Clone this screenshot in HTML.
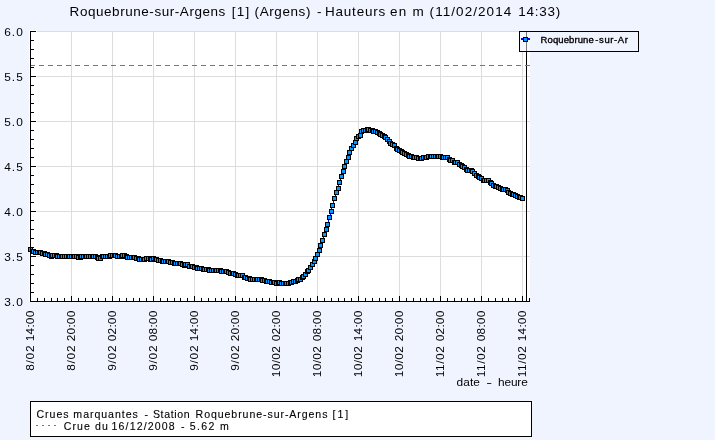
<!DOCTYPE html><html><head><meta charset="utf-8"><style>html,body{margin:0;padding:0;background:#F0F4FF;width:715px;height:440px;overflow:hidden}svg{display:block;will-change:transform}text{font-family:"Liberation Sans",sans-serif;fill:#000}</style></head><body>
<svg width="715" height="440" viewBox="0 0 715 440" shape-rendering="crispEdges">
<text transform="translate(69.60,16.00) scale(1.080,1)" x="0" y="0" font-size="12.50" textLength="144.24" lengthAdjust="spacing">Roquebrune-sur-Argens</text>
<text transform="translate(231.70,16.00) scale(1.080,1)" x="0" y="0" font-size="12.50" textLength="16.32" lengthAdjust="spacing">[1]</text>
<text transform="translate(254.60,16.00) scale(1.080,1)" x="0" y="0" font-size="12.50" textLength="51.66" lengthAdjust="spacing">(Argens)</text>
<text transform="translate(317.00,16.00) scale(1.080,1)" x="0" y="0" font-size="12.50" textLength="3.22" lengthAdjust="spacing">-</text>
<text transform="translate(325.00,16.00) scale(1.080,1)" x="0" y="0" font-size="12.50" textLength="55.81" lengthAdjust="spacing">Hauteurs</text>
<text transform="translate(390.00,16.00) scale(1.080,1)" x="0" y="0" font-size="12.50" textLength="31.37" lengthAdjust="spacing">en m</text>
<text transform="translate(429.60,16.00) scale(1.080,1)" x="0" y="0" font-size="12.50" textLength="75.63" lengthAdjust="spacing">(11/02/2014</text>
<text transform="translate(518.30,16.00) scale(1.080,1)" x="0" y="0" font-size="12.50" textLength="38.80" lengthAdjust="spacing">14:33)</text>
<rect x="29" y="31" width="501" height="271" fill="#fff"/><rect x="29" y="30" width="8" height="1" fill="#fff"/>
<rect x="71" y="31" width="1" height="270" fill="#DDDDDD"/>
<rect x="112" y="31" width="1" height="270" fill="#DDDDDD"/>
<rect x="153" y="31" width="1" height="270" fill="#DDDDDD"/>
<rect x="194" y="31" width="1" height="270" fill="#DDDDDD"/>
<rect x="235" y="31" width="1" height="270" fill="#DDDDDD"/>
<rect x="276" y="31" width="1" height="270" fill="#DDDDDD"/>
<rect x="317" y="31" width="1" height="270" fill="#DDDDDD"/>
<rect x="358" y="31" width="1" height="270" fill="#DDDDDD"/>
<rect x="399" y="31" width="1" height="270" fill="#DDDDDD"/>
<rect x="440" y="31" width="1" height="270" fill="#DDDDDD"/>
<rect x="481" y="31" width="1" height="270" fill="#DDDDDD"/>
<rect x="522" y="52" width="1" height="249" fill="#DDDDDD"/>
<rect x="37" y="31" width="493" height="1" fill="#DDDDDD"/>
<rect x="37" y="76" width="493" height="1" fill="#DDDDDD"/>
<rect x="37" y="121" width="493" height="1" fill="#DDDDDD"/>
<rect x="37" y="166" width="493" height="1" fill="#DDDDDD"/>
<rect x="37" y="211" width="493" height="1" fill="#DDDDDD"/>
<rect x="37" y="256" width="493" height="1" fill="#DDDDDD"/>
<rect x="526" y="31" width="1" height="270" fill="#000"/>
<rect x="30" y="65" width="5" height="1" fill="#0099FF"/>
<rect x="39" y="65" width="5" height="1" fill="#0099FF"/>
<rect x="48" y="65" width="5" height="1" fill="#0099FF"/>
<rect x="57" y="65" width="5" height="1" fill="#0099FF"/>
<rect x="66" y="65" width="5" height="1" fill="#0099FF"/>
<rect x="75" y="65" width="5" height="1" fill="#0099FF"/>
<rect x="84" y="65" width="5" height="1" fill="#0099FF"/>
<rect x="93" y="65" width="5" height="1" fill="#0099FF"/>
<rect x="102" y="65" width="5" height="1" fill="#0099FF"/>
<rect x="111" y="65" width="5" height="1" fill="#0099FF"/>
<rect x="120" y="65" width="5" height="1" fill="#0099FF"/>
<rect x="129" y="65" width="5" height="1" fill="#0099FF"/>
<rect x="138" y="65" width="5" height="1" fill="#0099FF"/>
<rect x="147" y="65" width="5" height="1" fill="#0099FF"/>
<rect x="156" y="65" width="5" height="1" fill="#0099FF"/>
<rect x="165" y="65" width="5" height="1" fill="#0099FF"/>
<rect x="174" y="65" width="5" height="1" fill="#0099FF"/>
<rect x="183" y="65" width="5" height="1" fill="#0099FF"/>
<rect x="192" y="65" width="5" height="1" fill="#0099FF"/>
<rect x="201" y="65" width="5" height="1" fill="#0099FF"/>
<rect x="210" y="65" width="5" height="1" fill="#0099FF"/>
<rect x="219" y="65" width="5" height="1" fill="#0099FF"/>
<rect x="228" y="65" width="5" height="1" fill="#0099FF"/>
<rect x="237" y="65" width="5" height="1" fill="#0099FF"/>
<rect x="246" y="65" width="5" height="1" fill="#0099FF"/>
<rect x="255" y="65" width="5" height="1" fill="#0099FF"/>
<rect x="264" y="65" width="5" height="1" fill="#0099FF"/>
<rect x="273" y="65" width="5" height="1" fill="#0099FF"/>
<rect x="282" y="65" width="5" height="1" fill="#0099FF"/>
<rect x="291" y="65" width="5" height="1" fill="#0099FF"/>
<rect x="300" y="65" width="5" height="1" fill="#0099FF"/>
<rect x="309" y="65" width="5" height="1" fill="#0099FF"/>
<rect x="318" y="65" width="5" height="1" fill="#0099FF"/>
<rect x="327" y="65" width="5" height="1" fill="#0099FF"/>
<rect x="336" y="65" width="5" height="1" fill="#0099FF"/>
<rect x="345" y="65" width="5" height="1" fill="#0099FF"/>
<rect x="354" y="65" width="5" height="1" fill="#0099FF"/>
<rect x="363" y="65" width="5" height="1" fill="#0099FF"/>
<rect x="372" y="65" width="5" height="1" fill="#0099FF"/>
<rect x="381" y="65" width="5" height="1" fill="#0099FF"/>
<rect x="390" y="65" width="5" height="1" fill="#0099FF"/>
<rect x="399" y="65" width="5" height="1" fill="#0099FF"/>
<rect x="408" y="65" width="5" height="1" fill="#0099FF"/>
<rect x="417" y="65" width="5" height="1" fill="#0099FF"/>
<rect x="426" y="65" width="5" height="1" fill="#0099FF"/>
<rect x="435" y="65" width="5" height="1" fill="#0099FF"/>
<rect x="444" y="65" width="5" height="1" fill="#0099FF"/>
<rect x="453" y="65" width="5" height="1" fill="#0099FF"/>
<rect x="462" y="65" width="5" height="1" fill="#0099FF"/>
<rect x="471" y="65" width="5" height="1" fill="#0099FF"/>
<rect x="480" y="65" width="5" height="1" fill="#0099FF"/>
<rect x="489" y="65" width="5" height="1" fill="#0099FF"/>
<rect x="498" y="65" width="5" height="1" fill="#0099FF"/>
<rect x="507" y="65" width="5" height="1" fill="#0099FF"/>
<rect x="516" y="65" width="5" height="1" fill="#0099FF"/>
<rect x="525" y="65" width="5" height="1" fill="#0099FF"/>
<polyline points="30.5,249.5 32.5,251.5 33.5,251.5 35.5,252.5 37.5,252.5 39.5,252.5 40.5,252.5 42.5,253.5 44.5,253.5 45.5,254.5 47.5,254.5 49.5,255.5 51.5,256.5 52.5,255.5 54.5,255.5 56.5,255.5 57.5,256.5 59.5,256.5 61.5,256.5 62.5,256.5 64.5,256.5 66.5,256.5 68.5,256.5 69.5,256.5 71.5,256.5 73.5,256.5 74.5,256.5 76.5,256.5 78.5,257.5 80.5,257.5 81.5,256.5 83.5,256.5 85.5,256.5 86.5,256.5 88.5,256.5 90.5,256.5 92.5,256.5 93.5,256.5 95.5,256.5 97.5,257.5 98.5,258.5 100.5,258.5 102.5,256.5 103.5,256.5 105.5,256.5 107.5,256.5 109.5,256.5 110.5,255.5 112.5,255.5 114.5,255.5 115.5,255.5 117.5,256.5 119.5,256.5 121.5,256.5 122.5,255.5 124.5,255.5 126.5,256.5 127.5,257.5 129.5,257.5 131.5,257.5 133.5,257.5 134.5,257.5 136.5,258.5 138.5,258.5 139.5,259.5 141.5,259.5 143.5,259.5 144.5,259.5 146.5,258.5 148.5,258.5 150.5,259.5 151.5,259.5 153.5,258.5 155.5,259.5 156.5,259.5 158.5,260.5 160.5,260.5 162.5,261.5 163.5,261.5 165.5,261.5 167.5,261.5 168.5,261.5 170.5,262.5 172.5,262.5 174.5,263.5 175.5,263.5 177.5,263.5 179.5,263.5 180.5,263.5 182.5,264.5 184.5,265.5 185.5,264.5 187.5,264.5 189.5,266.5 191.5,266.5 192.5,266.5 194.5,267.5 196.5,267.5 197.5,268.5 199.5,268.5 201.5,268.5 203.5,269.5 204.5,269.5 206.5,269.5 208.5,269.5 209.5,270.5 211.5,270.5 213.5,270.5 215.5,270.5 216.5,270.5 218.5,270.5 220.5,270.5 221.5,271.5 223.5,271.5 225.5,271.5 226.5,271.5 228.5,272.5 230.5,273.5 232.5,273.5 233.5,273.5 235.5,274.5 237.5,275.5 238.5,275.5 240.5,275.5 242.5,275.5 244.5,277.5 245.5,277.5 247.5,278.5 249.5,278.5 250.5,279.5 252.5,279.5 254.5,279.5 256.5,279.5 257.5,279.5 259.5,279.5 261.5,279.5 262.5,280.5 264.5,280.5 266.5,281.5 267.5,281.5 269.5,281.5 271.5,282.5 273.5,282.5 274.5,282.5 276.5,283.5 278.5,282.5 279.5,282.5 281.5,283.5 283.5,283.5 285.5,283.5 286.5,283.5 288.5,283.5 290.5,282.5 291.5,282.5 293.5,281.5 295.5,281.5 297.5,280.5 298.5,279.5 300.5,279.5 302.5,277.5 303.5,276.5 305.5,274.5 307.5,271.5 308.5,270.5 310.5,267.5 312.5,264.5 314.5,261.5 315.5,258.5 317.5,254.5 319.5,250.5 320.5,245.5 322.5,240.5 324.5,234.5 326.5,229.5 327.5,224.5 329.5,217.5 331.5,211.5 332.5,205.5 334.5,198.5 336.5,192.5 338.5,188.5 339.5,182.5 341.5,176.5 343.5,171.5 344.5,166.5 346.5,161.5 348.5,157.5 349.5,152.5 351.5,148.5 353.5,145.5 355.5,142.5 356.5,138.5 358.5,136.5 360.5,135.5 361.5,131.5 363.5,130.5 365.5,130.5 367.5,129.5 368.5,129.5 370.5,130.5 372.5,130.5 373.5,131.5 375.5,131.5 377.5,132.5 379.5,133.5 380.5,134.5 382.5,135.5 384.5,136.5 385.5,137.5 387.5,139.5 389.5,141.5 390.5,143.5 392.5,144.5 394.5,145.5 396.5,148.5 397.5,149.5 399.5,150.5 401.5,151.5 402.5,152.5 404.5,153.5 406.5,154.5 408.5,155.5 409.5,156.5 411.5,156.5 413.5,157.5 414.5,157.5 416.5,157.5 418.5,158.5 420.5,158.5 421.5,158.5 423.5,157.5 425.5,157.5 426.5,157.5 428.5,156.5 430.5,156.5 431.5,156.5 433.5,156.5 435.5,156.5 437.5,156.5 438.5,156.5 440.5,156.5 442.5,157.5 443.5,157.5 445.5,157.5 447.5,157.5 449.5,159.5 450.5,160.5 452.5,160.5 454.5,162.5 455.5,162.5 457.5,162.5 459.5,164.5 461.5,165.5 462.5,166.5 464.5,167.5 466.5,169.5 467.5,170.5 469.5,170.5 471.5,170.5 472.5,171.5 474.5,173.5 476.5,175.5 478.5,176.5 479.5,177.5 481.5,178.5 483.5,180.5 484.5,180.5 486.5,180.5 488.5,180.5 490.5,182.5 491.5,183.5 493.5,185.5 495.5,186.5 496.5,186.5 498.5,187.5 500.5,188.5 502.5,189.5 503.5,189.5 505.5,189.5 507.5,190.5 508.5,192.5 510.5,193.5 512.5,194.5 513.5,194.5 515.5,195.5 517.5,196.5 519.5,197.5 520.5,197.5 522.5,198.5" fill="none" stroke="#0000FF" stroke-width="1" shape-rendering="crispEdges"/>
<rect x="28" y="247" width="5" height="5" fill="#000"/><rect x="29" y="248" width="3" height="3" fill="#0099FF"/>
<rect x="30" y="249" width="5" height="5" fill="#000"/><rect x="31" y="250" width="3" height="3" fill="#0099FF"/>
<rect x="31" y="249" width="5" height="5" fill="#000"/><rect x="32" y="250" width="3" height="3" fill="#0099FF"/>
<rect x="33" y="250" width="5" height="5" fill="#000"/><rect x="34" y="251" width="3" height="3" fill="#0099FF"/>
<rect x="35" y="250" width="5" height="5" fill="#000"/><rect x="36" y="251" width="3" height="3" fill="#0099FF"/>
<rect x="37" y="250" width="5" height="5" fill="#000"/><rect x="38" y="251" width="3" height="3" fill="#0099FF"/>
<rect x="38" y="250" width="5" height="5" fill="#000"/><rect x="39" y="251" width="3" height="3" fill="#0099FF"/>
<rect x="40" y="251" width="5" height="5" fill="#000"/><rect x="41" y="252" width="3" height="3" fill="#0099FF"/>
<rect x="42" y="251" width="5" height="5" fill="#000"/><rect x="43" y="252" width="3" height="3" fill="#0099FF"/>
<rect x="43" y="252" width="5" height="5" fill="#000"/><rect x="44" y="253" width="3" height="3" fill="#0099FF"/>
<rect x="45" y="252" width="5" height="5" fill="#000"/><rect x="46" y="253" width="3" height="3" fill="#0099FF"/>
<rect x="47" y="253" width="5" height="5" fill="#000"/><rect x="48" y="254" width="3" height="3" fill="#0099FF"/>
<rect x="49" y="254" width="5" height="5" fill="#000"/><rect x="50" y="255" width="3" height="3" fill="#0099FF"/>
<rect x="50" y="253" width="5" height="5" fill="#000"/><rect x="51" y="254" width="3" height="3" fill="#0099FF"/>
<rect x="52" y="253" width="5" height="5" fill="#000"/><rect x="53" y="254" width="3" height="3" fill="#0099FF"/>
<rect x="54" y="253" width="5" height="5" fill="#000"/><rect x="55" y="254" width="3" height="3" fill="#0099FF"/>
<rect x="55" y="254" width="5" height="5" fill="#000"/><rect x="56" y="255" width="3" height="3" fill="#0099FF"/>
<rect x="57" y="254" width="5" height="5" fill="#000"/><rect x="58" y="255" width="3" height="3" fill="#0099FF"/>
<rect x="59" y="254" width="5" height="5" fill="#000"/><rect x="60" y="255" width="3" height="3" fill="#0099FF"/>
<rect x="60" y="254" width="5" height="5" fill="#000"/><rect x="61" y="255" width="3" height="3" fill="#0099FF"/>
<rect x="62" y="254" width="5" height="5" fill="#000"/><rect x="63" y="255" width="3" height="3" fill="#0099FF"/>
<rect x="64" y="254" width="5" height="5" fill="#000"/><rect x="65" y="255" width="3" height="3" fill="#0099FF"/>
<rect x="66" y="254" width="5" height="5" fill="#000"/><rect x="67" y="255" width="3" height="3" fill="#0099FF"/>
<rect x="67" y="254" width="5" height="5" fill="#000"/><rect x="68" y="255" width="3" height="3" fill="#0099FF"/>
<rect x="69" y="254" width="5" height="5" fill="#000"/><rect x="70" y="255" width="3" height="3" fill="#0099FF"/>
<rect x="71" y="254" width="5" height="5" fill="#000"/><rect x="72" y="255" width="3" height="3" fill="#0099FF"/>
<rect x="72" y="254" width="5" height="5" fill="#000"/><rect x="73" y="255" width="3" height="3" fill="#0099FF"/>
<rect x="74" y="254" width="5" height="5" fill="#000"/><rect x="75" y="255" width="3" height="3" fill="#0099FF"/>
<rect x="76" y="255" width="5" height="5" fill="#000"/><rect x="77" y="256" width="3" height="3" fill="#0099FF"/>
<rect x="78" y="255" width="5" height="5" fill="#000"/><rect x="79" y="256" width="3" height="3" fill="#0099FF"/>
<rect x="79" y="254" width="5" height="5" fill="#000"/><rect x="80" y="255" width="3" height="3" fill="#0099FF"/>
<rect x="81" y="254" width="5" height="5" fill="#000"/><rect x="82" y="255" width="3" height="3" fill="#0099FF"/>
<rect x="83" y="254" width="5" height="5" fill="#000"/><rect x="84" y="255" width="3" height="3" fill="#0099FF"/>
<rect x="84" y="254" width="5" height="5" fill="#000"/><rect x="85" y="255" width="3" height="3" fill="#0099FF"/>
<rect x="86" y="254" width="5" height="5" fill="#000"/><rect x="87" y="255" width="3" height="3" fill="#0099FF"/>
<rect x="88" y="254" width="5" height="5" fill="#000"/><rect x="89" y="255" width="3" height="3" fill="#0099FF"/>
<rect x="90" y="254" width="5" height="5" fill="#000"/><rect x="91" y="255" width="3" height="3" fill="#0099FF"/>
<rect x="91" y="254" width="5" height="5" fill="#000"/><rect x="92" y="255" width="3" height="3" fill="#0099FF"/>
<rect x="93" y="254" width="5" height="5" fill="#000"/><rect x="94" y="255" width="3" height="3" fill="#0099FF"/>
<rect x="95" y="255" width="5" height="5" fill="#000"/><rect x="96" y="256" width="3" height="3" fill="#0099FF"/>
<rect x="96" y="256" width="5" height="5" fill="#000"/><rect x="97" y="257" width="3" height="3" fill="#0099FF"/>
<rect x="98" y="256" width="5" height="5" fill="#000"/><rect x="99" y="257" width="3" height="3" fill="#0099FF"/>
<rect x="100" y="254" width="5" height="5" fill="#000"/><rect x="101" y="255" width="3" height="3" fill="#0099FF"/>
<rect x="101" y="254" width="5" height="5" fill="#000"/><rect x="102" y="255" width="3" height="3" fill="#0099FF"/>
<rect x="103" y="254" width="5" height="5" fill="#000"/><rect x="104" y="255" width="3" height="3" fill="#0099FF"/>
<rect x="105" y="254" width="5" height="5" fill="#000"/><rect x="106" y="255" width="3" height="3" fill="#0099FF"/>
<rect x="107" y="254" width="5" height="5" fill="#000"/><rect x="108" y="255" width="3" height="3" fill="#0099FF"/>
<rect x="108" y="253" width="5" height="5" fill="#000"/><rect x="109" y="254" width="3" height="3" fill="#0099FF"/>
<rect x="110" y="253" width="5" height="5" fill="#000"/><rect x="111" y="254" width="3" height="3" fill="#0099FF"/>
<rect x="112" y="253" width="5" height="5" fill="#000"/><rect x="113" y="254" width="3" height="3" fill="#0099FF"/>
<rect x="113" y="253" width="5" height="5" fill="#000"/><rect x="114" y="254" width="3" height="3" fill="#0099FF"/>
<rect x="115" y="254" width="5" height="5" fill="#000"/><rect x="116" y="255" width="3" height="3" fill="#0099FF"/>
<rect x="117" y="254" width="5" height="5" fill="#000"/><rect x="118" y="255" width="3" height="3" fill="#0099FF"/>
<rect x="119" y="254" width="5" height="5" fill="#000"/><rect x="120" y="255" width="3" height="3" fill="#0099FF"/>
<rect x="120" y="253" width="5" height="5" fill="#000"/><rect x="121" y="254" width="3" height="3" fill="#0099FF"/>
<rect x="122" y="253" width="5" height="5" fill="#000"/><rect x="123" y="254" width="3" height="3" fill="#0099FF"/>
<rect x="124" y="254" width="5" height="5" fill="#000"/><rect x="125" y="255" width="3" height="3" fill="#0099FF"/>
<rect x="125" y="255" width="5" height="5" fill="#000"/><rect x="126" y="256" width="3" height="3" fill="#0099FF"/>
<rect x="127" y="255" width="5" height="5" fill="#000"/><rect x="128" y="256" width="3" height="3" fill="#0099FF"/>
<rect x="129" y="255" width="5" height="5" fill="#000"/><rect x="130" y="256" width="3" height="3" fill="#0099FF"/>
<rect x="131" y="255" width="5" height="5" fill="#000"/><rect x="132" y="256" width="3" height="3" fill="#0099FF"/>
<rect x="132" y="255" width="5" height="5" fill="#000"/><rect x="133" y="256" width="3" height="3" fill="#0099FF"/>
<rect x="134" y="256" width="5" height="5" fill="#000"/><rect x="135" y="257" width="3" height="3" fill="#0099FF"/>
<rect x="136" y="256" width="5" height="5" fill="#000"/><rect x="137" y="257" width="3" height="3" fill="#0099FF"/>
<rect x="137" y="257" width="5" height="5" fill="#000"/><rect x="138" y="258" width="3" height="3" fill="#0099FF"/>
<rect x="139" y="257" width="5" height="5" fill="#000"/><rect x="140" y="258" width="3" height="3" fill="#0099FF"/>
<rect x="141" y="257" width="5" height="5" fill="#000"/><rect x="142" y="258" width="3" height="3" fill="#0099FF"/>
<rect x="142" y="257" width="5" height="5" fill="#000"/><rect x="143" y="258" width="3" height="3" fill="#0099FF"/>
<rect x="144" y="256" width="5" height="5" fill="#000"/><rect x="145" y="257" width="3" height="3" fill="#0099FF"/>
<rect x="146" y="256" width="5" height="5" fill="#000"/><rect x="147" y="257" width="3" height="3" fill="#0099FF"/>
<rect x="148" y="257" width="5" height="5" fill="#000"/><rect x="149" y="258" width="3" height="3" fill="#0099FF"/>
<rect x="149" y="257" width="5" height="5" fill="#000"/><rect x="150" y="258" width="3" height="3" fill="#0099FF"/>
<rect x="151" y="256" width="5" height="5" fill="#000"/><rect x="152" y="257" width="3" height="3" fill="#0099FF"/>
<rect x="153" y="257" width="5" height="5" fill="#000"/><rect x="154" y="258" width="3" height="3" fill="#0099FF"/>
<rect x="154" y="257" width="5" height="5" fill="#000"/><rect x="155" y="258" width="3" height="3" fill="#0099FF"/>
<rect x="156" y="258" width="5" height="5" fill="#000"/><rect x="157" y="259" width="3" height="3" fill="#0099FF"/>
<rect x="158" y="258" width="5" height="5" fill="#000"/><rect x="159" y="259" width="3" height="3" fill="#0099FF"/>
<rect x="160" y="259" width="5" height="5" fill="#000"/><rect x="161" y="260" width="3" height="3" fill="#0099FF"/>
<rect x="161" y="259" width="5" height="5" fill="#000"/><rect x="162" y="260" width="3" height="3" fill="#0099FF"/>
<rect x="163" y="259" width="5" height="5" fill="#000"/><rect x="164" y="260" width="3" height="3" fill="#0099FF"/>
<rect x="165" y="259" width="5" height="5" fill="#000"/><rect x="166" y="260" width="3" height="3" fill="#0099FF"/>
<rect x="166" y="259" width="5" height="5" fill="#000"/><rect x="167" y="260" width="3" height="3" fill="#0099FF"/>
<rect x="168" y="260" width="5" height="5" fill="#000"/><rect x="169" y="261" width="3" height="3" fill="#0099FF"/>
<rect x="170" y="260" width="5" height="5" fill="#000"/><rect x="171" y="261" width="3" height="3" fill="#0099FF"/>
<rect x="172" y="261" width="5" height="5" fill="#000"/><rect x="173" y="262" width="3" height="3" fill="#0099FF"/>
<rect x="173" y="261" width="5" height="5" fill="#000"/><rect x="174" y="262" width="3" height="3" fill="#0099FF"/>
<rect x="175" y="261" width="5" height="5" fill="#000"/><rect x="176" y="262" width="3" height="3" fill="#0099FF"/>
<rect x="177" y="261" width="5" height="5" fill="#000"/><rect x="178" y="262" width="3" height="3" fill="#0099FF"/>
<rect x="178" y="261" width="5" height="5" fill="#000"/><rect x="179" y="262" width="3" height="3" fill="#0099FF"/>
<rect x="180" y="262" width="5" height="5" fill="#000"/><rect x="181" y="263" width="3" height="3" fill="#0099FF"/>
<rect x="182" y="263" width="5" height="5" fill="#000"/><rect x="183" y="264" width="3" height="3" fill="#0099FF"/>
<rect x="183" y="262" width="5" height="5" fill="#000"/><rect x="184" y="263" width="3" height="3" fill="#0099FF"/>
<rect x="185" y="262" width="5" height="5" fill="#000"/><rect x="186" y="263" width="3" height="3" fill="#0099FF"/>
<rect x="187" y="264" width="5" height="5" fill="#000"/><rect x="188" y="265" width="3" height="3" fill="#0099FF"/>
<rect x="189" y="264" width="5" height="5" fill="#000"/><rect x="190" y="265" width="3" height="3" fill="#0099FF"/>
<rect x="190" y="264" width="5" height="5" fill="#000"/><rect x="191" y="265" width="3" height="3" fill="#0099FF"/>
<rect x="192" y="265" width="5" height="5" fill="#000"/><rect x="193" y="266" width="3" height="3" fill="#0099FF"/>
<rect x="194" y="265" width="5" height="5" fill="#000"/><rect x="195" y="266" width="3" height="3" fill="#0099FF"/>
<rect x="195" y="266" width="5" height="5" fill="#000"/><rect x="196" y="267" width="3" height="3" fill="#0099FF"/>
<rect x="197" y="266" width="5" height="5" fill="#000"/><rect x="198" y="267" width="3" height="3" fill="#0099FF"/>
<rect x="199" y="266" width="5" height="5" fill="#000"/><rect x="200" y="267" width="3" height="3" fill="#0099FF"/>
<rect x="201" y="267" width="5" height="5" fill="#000"/><rect x="202" y="268" width="3" height="3" fill="#0099FF"/>
<rect x="202" y="267" width="5" height="5" fill="#000"/><rect x="203" y="268" width="3" height="3" fill="#0099FF"/>
<rect x="204" y="267" width="5" height="5" fill="#000"/><rect x="205" y="268" width="3" height="3" fill="#0099FF"/>
<rect x="206" y="267" width="5" height="5" fill="#000"/><rect x="207" y="268" width="3" height="3" fill="#0099FF"/>
<rect x="207" y="268" width="5" height="5" fill="#000"/><rect x="208" y="269" width="3" height="3" fill="#0099FF"/>
<rect x="209" y="268" width="5" height="5" fill="#000"/><rect x="210" y="269" width="3" height="3" fill="#0099FF"/>
<rect x="211" y="268" width="5" height="5" fill="#000"/><rect x="212" y="269" width="3" height="3" fill="#0099FF"/>
<rect x="213" y="268" width="5" height="5" fill="#000"/><rect x="214" y="269" width="3" height="3" fill="#0099FF"/>
<rect x="214" y="268" width="5" height="5" fill="#000"/><rect x="215" y="269" width="3" height="3" fill="#0099FF"/>
<rect x="216" y="268" width="5" height="5" fill="#000"/><rect x="217" y="269" width="3" height="3" fill="#0099FF"/>
<rect x="218" y="268" width="5" height="5" fill="#000"/><rect x="219" y="269" width="3" height="3" fill="#0099FF"/>
<rect x="219" y="269" width="5" height="5" fill="#000"/><rect x="220" y="270" width="3" height="3" fill="#0099FF"/>
<rect x="221" y="269" width="5" height="5" fill="#000"/><rect x="222" y="270" width="3" height="3" fill="#0099FF"/>
<rect x="223" y="269" width="5" height="5" fill="#000"/><rect x="224" y="270" width="3" height="3" fill="#0099FF"/>
<rect x="224" y="269" width="5" height="5" fill="#000"/><rect x="225" y="270" width="3" height="3" fill="#0099FF"/>
<rect x="226" y="270" width="5" height="5" fill="#000"/><rect x="227" y="271" width="3" height="3" fill="#0099FF"/>
<rect x="228" y="271" width="5" height="5" fill="#000"/><rect x="229" y="272" width="3" height="3" fill="#0099FF"/>
<rect x="230" y="271" width="5" height="5" fill="#000"/><rect x="231" y="272" width="3" height="3" fill="#0099FF"/>
<rect x="231" y="271" width="5" height="5" fill="#000"/><rect x="232" y="272" width="3" height="3" fill="#0099FF"/>
<rect x="233" y="272" width="5" height="5" fill="#000"/><rect x="234" y="273" width="3" height="3" fill="#0099FF"/>
<rect x="235" y="273" width="5" height="5" fill="#000"/><rect x="236" y="274" width="3" height="3" fill="#0099FF"/>
<rect x="236" y="273" width="5" height="5" fill="#000"/><rect x="237" y="274" width="3" height="3" fill="#0099FF"/>
<rect x="238" y="273" width="5" height="5" fill="#000"/><rect x="239" y="274" width="3" height="3" fill="#0099FF"/>
<rect x="240" y="273" width="5" height="5" fill="#000"/><rect x="241" y="274" width="3" height="3" fill="#0099FF"/>
<rect x="242" y="275" width="5" height="5" fill="#000"/><rect x="243" y="276" width="3" height="3" fill="#0099FF"/>
<rect x="243" y="275" width="5" height="5" fill="#000"/><rect x="244" y="276" width="3" height="3" fill="#0099FF"/>
<rect x="245" y="276" width="5" height="5" fill="#000"/><rect x="246" y="277" width="3" height="3" fill="#0099FF"/>
<rect x="247" y="276" width="5" height="5" fill="#000"/><rect x="248" y="277" width="3" height="3" fill="#0099FF"/>
<rect x="248" y="277" width="5" height="5" fill="#000"/><rect x="249" y="278" width="3" height="3" fill="#0099FF"/>
<rect x="250" y="277" width="5" height="5" fill="#000"/><rect x="251" y="278" width="3" height="3" fill="#0099FF"/>
<rect x="252" y="277" width="5" height="5" fill="#000"/><rect x="253" y="278" width="3" height="3" fill="#0099FF"/>
<rect x="254" y="277" width="5" height="5" fill="#000"/><rect x="255" y="278" width="3" height="3" fill="#0099FF"/>
<rect x="255" y="277" width="5" height="5" fill="#000"/><rect x="256" y="278" width="3" height="3" fill="#0099FF"/>
<rect x="257" y="277" width="5" height="5" fill="#000"/><rect x="258" y="278" width="3" height="3" fill="#0099FF"/>
<rect x="259" y="277" width="5" height="5" fill="#000"/><rect x="260" y="278" width="3" height="3" fill="#0099FF"/>
<rect x="260" y="278" width="5" height="5" fill="#000"/><rect x="261" y="279" width="3" height="3" fill="#0099FF"/>
<rect x="262" y="278" width="5" height="5" fill="#000"/><rect x="263" y="279" width="3" height="3" fill="#0099FF"/>
<rect x="264" y="279" width="5" height="5" fill="#000"/><rect x="265" y="280" width="3" height="3" fill="#0099FF"/>
<rect x="265" y="279" width="5" height="5" fill="#000"/><rect x="266" y="280" width="3" height="3" fill="#0099FF"/>
<rect x="267" y="279" width="5" height="5" fill="#000"/><rect x="268" y="280" width="3" height="3" fill="#0099FF"/>
<rect x="269" y="280" width="5" height="5" fill="#000"/><rect x="270" y="281" width="3" height="3" fill="#0099FF"/>
<rect x="271" y="280" width="5" height="5" fill="#000"/><rect x="272" y="281" width="3" height="3" fill="#0099FF"/>
<rect x="272" y="280" width="5" height="5" fill="#000"/><rect x="273" y="281" width="3" height="3" fill="#0099FF"/>
<rect x="274" y="281" width="5" height="5" fill="#000"/><rect x="275" y="282" width="3" height="3" fill="#0099FF"/>
<rect x="276" y="280" width="5" height="5" fill="#000"/><rect x="277" y="281" width="3" height="3" fill="#0099FF"/>
<rect x="277" y="280" width="5" height="5" fill="#000"/><rect x="278" y="281" width="3" height="3" fill="#0099FF"/>
<rect x="279" y="281" width="5" height="5" fill="#000"/><rect x="280" y="282" width="3" height="3" fill="#0099FF"/>
<rect x="281" y="281" width="5" height="5" fill="#000"/><rect x="282" y="282" width="3" height="3" fill="#0099FF"/>
<rect x="283" y="281" width="5" height="5" fill="#000"/><rect x="284" y="282" width="3" height="3" fill="#0099FF"/>
<rect x="284" y="281" width="5" height="5" fill="#000"/><rect x="285" y="282" width="3" height="3" fill="#0099FF"/>
<rect x="286" y="281" width="5" height="5" fill="#000"/><rect x="287" y="282" width="3" height="3" fill="#0099FF"/>
<rect x="288" y="280" width="5" height="5" fill="#000"/><rect x="289" y="281" width="3" height="3" fill="#0099FF"/>
<rect x="289" y="280" width="5" height="5" fill="#000"/><rect x="290" y="281" width="3" height="3" fill="#0099FF"/>
<rect x="291" y="279" width="5" height="5" fill="#000"/><rect x="292" y="280" width="3" height="3" fill="#0099FF"/>
<rect x="293" y="279" width="5" height="5" fill="#000"/><rect x="294" y="280" width="3" height="3" fill="#0099FF"/>
<rect x="295" y="278" width="5" height="5" fill="#000"/><rect x="296" y="279" width="3" height="3" fill="#0099FF"/>
<rect x="296" y="277" width="5" height="5" fill="#000"/><rect x="297" y="278" width="3" height="3" fill="#0099FF"/>
<rect x="298" y="277" width="5" height="5" fill="#000"/><rect x="299" y="278" width="3" height="3" fill="#0099FF"/>
<rect x="300" y="275" width="5" height="5" fill="#000"/><rect x="301" y="276" width="3" height="3" fill="#0099FF"/>
<rect x="301" y="274" width="5" height="5" fill="#000"/><rect x="302" y="275" width="3" height="3" fill="#0099FF"/>
<rect x="303" y="272" width="5" height="5" fill="#000"/><rect x="304" y="273" width="3" height="3" fill="#0099FF"/>
<rect x="305" y="269" width="5" height="5" fill="#000"/><rect x="306" y="270" width="3" height="3" fill="#0099FF"/>
<rect x="306" y="268" width="5" height="5" fill="#000"/><rect x="307" y="269" width="3" height="3" fill="#0099FF"/>
<rect x="308" y="265" width="5" height="5" fill="#000"/><rect x="309" y="266" width="3" height="3" fill="#0099FF"/>
<rect x="310" y="262" width="5" height="5" fill="#000"/><rect x="311" y="263" width="3" height="3" fill="#0099FF"/>
<rect x="312" y="259" width="5" height="5" fill="#000"/><rect x="313" y="260" width="3" height="3" fill="#0099FF"/>
<rect x="313" y="256" width="5" height="5" fill="#000"/><rect x="314" y="257" width="3" height="3" fill="#0099FF"/>
<rect x="315" y="252" width="5" height="5" fill="#000"/><rect x="316" y="253" width="3" height="3" fill="#0099FF"/>
<rect x="317" y="248" width="5" height="5" fill="#000"/><rect x="318" y="249" width="3" height="3" fill="#0099FF"/>
<rect x="318" y="243" width="5" height="5" fill="#000"/><rect x="319" y="244" width="3" height="3" fill="#0099FF"/>
<rect x="320" y="238" width="5" height="5" fill="#000"/><rect x="321" y="239" width="3" height="3" fill="#0099FF"/>
<rect x="322" y="232" width="5" height="5" fill="#000"/><rect x="323" y="233" width="3" height="3" fill="#0099FF"/>
<rect x="324" y="227" width="5" height="5" fill="#000"/><rect x="325" y="228" width="3" height="3" fill="#0099FF"/>
<rect x="325" y="222" width="5" height="5" fill="#000"/><rect x="326" y="223" width="3" height="3" fill="#0099FF"/>
<rect x="327" y="215" width="5" height="5" fill="#000"/><rect x="328" y="216" width="3" height="3" fill="#0099FF"/>
<rect x="329" y="209" width="5" height="5" fill="#000"/><rect x="330" y="210" width="3" height="3" fill="#0099FF"/>
<rect x="330" y="203" width="5" height="5" fill="#000"/><rect x="331" y="204" width="3" height="3" fill="#0099FF"/>
<rect x="332" y="196" width="5" height="5" fill="#000"/><rect x="333" y="197" width="3" height="3" fill="#0099FF"/>
<rect x="334" y="190" width="5" height="5" fill="#000"/><rect x="335" y="191" width="3" height="3" fill="#0099FF"/>
<rect x="336" y="186" width="5" height="5" fill="#000"/><rect x="337" y="187" width="3" height="3" fill="#0099FF"/>
<rect x="337" y="180" width="5" height="5" fill="#000"/><rect x="338" y="181" width="3" height="3" fill="#0099FF"/>
<rect x="339" y="174" width="5" height="5" fill="#000"/><rect x="340" y="175" width="3" height="3" fill="#0099FF"/>
<rect x="341" y="169" width="5" height="5" fill="#000"/><rect x="342" y="170" width="3" height="3" fill="#0099FF"/>
<rect x="342" y="164" width="5" height="5" fill="#000"/><rect x="343" y="165" width="3" height="3" fill="#0099FF"/>
<rect x="344" y="159" width="5" height="5" fill="#000"/><rect x="345" y="160" width="3" height="3" fill="#0099FF"/>
<rect x="346" y="155" width="5" height="5" fill="#000"/><rect x="347" y="156" width="3" height="3" fill="#0099FF"/>
<rect x="347" y="150" width="5" height="5" fill="#000"/><rect x="348" y="151" width="3" height="3" fill="#0099FF"/>
<rect x="349" y="146" width="5" height="5" fill="#000"/><rect x="350" y="147" width="3" height="3" fill="#0099FF"/>
<rect x="351" y="143" width="5" height="5" fill="#000"/><rect x="352" y="144" width="3" height="3" fill="#0099FF"/>
<rect x="353" y="140" width="5" height="5" fill="#000"/><rect x="354" y="141" width="3" height="3" fill="#0099FF"/>
<rect x="354" y="136" width="5" height="5" fill="#000"/><rect x="355" y="137" width="3" height="3" fill="#0099FF"/>
<rect x="356" y="134" width="5" height="5" fill="#000"/><rect x="357" y="135" width="3" height="3" fill="#0099FF"/>
<rect x="358" y="133" width="5" height="5" fill="#000"/><rect x="359" y="134" width="3" height="3" fill="#0099FF"/>
<rect x="359" y="129" width="5" height="5" fill="#000"/><rect x="360" y="130" width="3" height="3" fill="#0099FF"/>
<rect x="361" y="128" width="5" height="5" fill="#000"/><rect x="362" y="129" width="3" height="3" fill="#0099FF"/>
<rect x="363" y="128" width="5" height="5" fill="#000"/><rect x="364" y="129" width="3" height="3" fill="#0099FF"/>
<rect x="365" y="127" width="5" height="5" fill="#000"/><rect x="366" y="128" width="3" height="3" fill="#0099FF"/>
<rect x="366" y="127" width="5" height="5" fill="#000"/><rect x="367" y="128" width="3" height="3" fill="#0099FF"/>
<rect x="368" y="128" width="5" height="5" fill="#000"/><rect x="369" y="129" width="3" height="3" fill="#0099FF"/>
<rect x="370" y="128" width="5" height="5" fill="#000"/><rect x="371" y="129" width="3" height="3" fill="#0099FF"/>
<rect x="371" y="129" width="5" height="5" fill="#000"/><rect x="372" y="130" width="3" height="3" fill="#0099FF"/>
<rect x="373" y="129" width="5" height="5" fill="#000"/><rect x="374" y="130" width="3" height="3" fill="#0099FF"/>
<rect x="375" y="130" width="5" height="5" fill="#000"/><rect x="376" y="131" width="3" height="3" fill="#0099FF"/>
<rect x="377" y="131" width="5" height="5" fill="#000"/><rect x="378" y="132" width="3" height="3" fill="#0099FF"/>
<rect x="378" y="132" width="5" height="5" fill="#000"/><rect x="379" y="133" width="3" height="3" fill="#0099FF"/>
<rect x="380" y="133" width="5" height="5" fill="#000"/><rect x="381" y="134" width="3" height="3" fill="#0099FF"/>
<rect x="382" y="134" width="5" height="5" fill="#000"/><rect x="383" y="135" width="3" height="3" fill="#0099FF"/>
<rect x="383" y="135" width="5" height="5" fill="#000"/><rect x="384" y="136" width="3" height="3" fill="#0099FF"/>
<rect x="385" y="137" width="5" height="5" fill="#000"/><rect x="386" y="138" width="3" height="3" fill="#0099FF"/>
<rect x="387" y="139" width="5" height="5" fill="#000"/><rect x="388" y="140" width="3" height="3" fill="#0099FF"/>
<rect x="388" y="141" width="5" height="5" fill="#000"/><rect x="389" y="142" width="3" height="3" fill="#0099FF"/>
<rect x="390" y="142" width="5" height="5" fill="#000"/><rect x="391" y="143" width="3" height="3" fill="#0099FF"/>
<rect x="392" y="143" width="5" height="5" fill="#000"/><rect x="393" y="144" width="3" height="3" fill="#0099FF"/>
<rect x="394" y="146" width="5" height="5" fill="#000"/><rect x="395" y="147" width="3" height="3" fill="#0099FF"/>
<rect x="395" y="147" width="5" height="5" fill="#000"/><rect x="396" y="148" width="3" height="3" fill="#0099FF"/>
<rect x="397" y="148" width="5" height="5" fill="#000"/><rect x="398" y="149" width="3" height="3" fill="#0099FF"/>
<rect x="399" y="149" width="5" height="5" fill="#000"/><rect x="400" y="150" width="3" height="3" fill="#0099FF"/>
<rect x="400" y="150" width="5" height="5" fill="#000"/><rect x="401" y="151" width="3" height="3" fill="#0099FF"/>
<rect x="402" y="151" width="5" height="5" fill="#000"/><rect x="403" y="152" width="3" height="3" fill="#0099FF"/>
<rect x="404" y="152" width="5" height="5" fill="#000"/><rect x="405" y="153" width="3" height="3" fill="#0099FF"/>
<rect x="406" y="153" width="5" height="5" fill="#000"/><rect x="407" y="154" width="3" height="3" fill="#0099FF"/>
<rect x="407" y="154" width="5" height="5" fill="#000"/><rect x="408" y="155" width="3" height="3" fill="#0099FF"/>
<rect x="409" y="154" width="5" height="5" fill="#000"/><rect x="410" y="155" width="3" height="3" fill="#0099FF"/>
<rect x="411" y="155" width="5" height="5" fill="#000"/><rect x="412" y="156" width="3" height="3" fill="#0099FF"/>
<rect x="412" y="155" width="5" height="5" fill="#000"/><rect x="413" y="156" width="3" height="3" fill="#0099FF"/>
<rect x="414" y="155" width="5" height="5" fill="#000"/><rect x="415" y="156" width="3" height="3" fill="#0099FF"/>
<rect x="416" y="156" width="5" height="5" fill="#000"/><rect x="417" y="157" width="3" height="3" fill="#0099FF"/>
<rect x="418" y="156" width="5" height="5" fill="#000"/><rect x="419" y="157" width="3" height="3" fill="#0099FF"/>
<rect x="419" y="156" width="5" height="5" fill="#000"/><rect x="420" y="157" width="3" height="3" fill="#0099FF"/>
<rect x="421" y="155" width="5" height="5" fill="#000"/><rect x="422" y="156" width="3" height="3" fill="#0099FF"/>
<rect x="423" y="155" width="5" height="5" fill="#000"/><rect x="424" y="156" width="3" height="3" fill="#0099FF"/>
<rect x="424" y="155" width="5" height="5" fill="#000"/><rect x="425" y="156" width="3" height="3" fill="#0099FF"/>
<rect x="426" y="154" width="5" height="5" fill="#000"/><rect x="427" y="155" width="3" height="3" fill="#0099FF"/>
<rect x="428" y="154" width="5" height="5" fill="#000"/><rect x="429" y="155" width="3" height="3" fill="#0099FF"/>
<rect x="429" y="154" width="5" height="5" fill="#000"/><rect x="430" y="155" width="3" height="3" fill="#0099FF"/>
<rect x="431" y="154" width="5" height="5" fill="#000"/><rect x="432" y="155" width="3" height="3" fill="#0099FF"/>
<rect x="433" y="154" width="5" height="5" fill="#000"/><rect x="434" y="155" width="3" height="3" fill="#0099FF"/>
<rect x="435" y="154" width="5" height="5" fill="#000"/><rect x="436" y="155" width="3" height="3" fill="#0099FF"/>
<rect x="436" y="154" width="5" height="5" fill="#000"/><rect x="437" y="155" width="3" height="3" fill="#0099FF"/>
<rect x="438" y="154" width="5" height="5" fill="#000"/><rect x="439" y="155" width="3" height="3" fill="#0099FF"/>
<rect x="440" y="155" width="5" height="5" fill="#000"/><rect x="441" y="156" width="3" height="3" fill="#0099FF"/>
<rect x="441" y="155" width="5" height="5" fill="#000"/><rect x="442" y="156" width="3" height="3" fill="#0099FF"/>
<rect x="443" y="155" width="5" height="5" fill="#000"/><rect x="444" y="156" width="3" height="3" fill="#0099FF"/>
<rect x="445" y="155" width="5" height="5" fill="#000"/><rect x="446" y="156" width="3" height="3" fill="#0099FF"/>
<rect x="447" y="157" width="5" height="5" fill="#000"/><rect x="448" y="158" width="3" height="3" fill="#0099FF"/>
<rect x="448" y="158" width="5" height="5" fill="#000"/><rect x="449" y="159" width="3" height="3" fill="#0099FF"/>
<rect x="450" y="158" width="5" height="5" fill="#000"/><rect x="451" y="159" width="3" height="3" fill="#0099FF"/>
<rect x="452" y="160" width="5" height="5" fill="#000"/><rect x="453" y="161" width="3" height="3" fill="#0099FF"/>
<rect x="453" y="160" width="5" height="5" fill="#000"/><rect x="454" y="161" width="3" height="3" fill="#0099FF"/>
<rect x="455" y="160" width="5" height="5" fill="#000"/><rect x="456" y="161" width="3" height="3" fill="#0099FF"/>
<rect x="457" y="162" width="5" height="5" fill="#000"/><rect x="458" y="163" width="3" height="3" fill="#0099FF"/>
<rect x="459" y="163" width="5" height="5" fill="#000"/><rect x="460" y="164" width="3" height="3" fill="#0099FF"/>
<rect x="460" y="164" width="5" height="5" fill="#000"/><rect x="461" y="165" width="3" height="3" fill="#0099FF"/>
<rect x="462" y="165" width="5" height="5" fill="#000"/><rect x="463" y="166" width="3" height="3" fill="#0099FF"/>
<rect x="464" y="167" width="5" height="5" fill="#000"/><rect x="465" y="168" width="3" height="3" fill="#0099FF"/>
<rect x="465" y="168" width="5" height="5" fill="#000"/><rect x="466" y="169" width="3" height="3" fill="#0099FF"/>
<rect x="467" y="168" width="5" height="5" fill="#000"/><rect x="468" y="169" width="3" height="3" fill="#0099FF"/>
<rect x="469" y="168" width="5" height="5" fill="#000"/><rect x="470" y="169" width="3" height="3" fill="#0099FF"/>
<rect x="470" y="169" width="5" height="5" fill="#000"/><rect x="471" y="170" width="3" height="3" fill="#0099FF"/>
<rect x="472" y="171" width="5" height="5" fill="#000"/><rect x="473" y="172" width="3" height="3" fill="#0099FF"/>
<rect x="474" y="173" width="5" height="5" fill="#000"/><rect x="475" y="174" width="3" height="3" fill="#0099FF"/>
<rect x="476" y="174" width="5" height="5" fill="#000"/><rect x="477" y="175" width="3" height="3" fill="#0099FF"/>
<rect x="477" y="175" width="5" height="5" fill="#000"/><rect x="478" y="176" width="3" height="3" fill="#0099FF"/>
<rect x="479" y="176" width="5" height="5" fill="#000"/><rect x="480" y="177" width="3" height="3" fill="#0099FF"/>
<rect x="481" y="178" width="5" height="5" fill="#000"/><rect x="482" y="179" width="3" height="3" fill="#0099FF"/>
<rect x="482" y="178" width="5" height="5" fill="#000"/><rect x="483" y="179" width="3" height="3" fill="#0099FF"/>
<rect x="484" y="178" width="5" height="5" fill="#000"/><rect x="485" y="179" width="3" height="3" fill="#0099FF"/>
<rect x="486" y="178" width="5" height="5" fill="#000"/><rect x="487" y="179" width="3" height="3" fill="#0099FF"/>
<rect x="488" y="180" width="5" height="5" fill="#000"/><rect x="489" y="181" width="3" height="3" fill="#0099FF"/>
<rect x="489" y="181" width="5" height="5" fill="#000"/><rect x="490" y="182" width="3" height="3" fill="#0099FF"/>
<rect x="491" y="183" width="5" height="5" fill="#000"/><rect x="492" y="184" width="3" height="3" fill="#0099FF"/>
<rect x="493" y="184" width="5" height="5" fill="#000"/><rect x="494" y="185" width="3" height="3" fill="#0099FF"/>
<rect x="494" y="184" width="5" height="5" fill="#000"/><rect x="495" y="185" width="3" height="3" fill="#0099FF"/>
<rect x="496" y="185" width="5" height="5" fill="#000"/><rect x="497" y="186" width="3" height="3" fill="#0099FF"/>
<rect x="498" y="186" width="5" height="5" fill="#000"/><rect x="499" y="187" width="3" height="3" fill="#0099FF"/>
<rect x="500" y="187" width="5" height="5" fill="#000"/><rect x="501" y="188" width="3" height="3" fill="#0099FF"/>
<rect x="501" y="187" width="5" height="5" fill="#000"/><rect x="502" y="188" width="3" height="3" fill="#0099FF"/>
<rect x="503" y="187" width="5" height="5" fill="#000"/><rect x="504" y="188" width="3" height="3" fill="#0099FF"/>
<rect x="505" y="188" width="5" height="5" fill="#000"/><rect x="506" y="189" width="3" height="3" fill="#0099FF"/>
<rect x="506" y="190" width="5" height="5" fill="#000"/><rect x="507" y="191" width="3" height="3" fill="#0099FF"/>
<rect x="508" y="191" width="5" height="5" fill="#000"/><rect x="509" y="192" width="3" height="3" fill="#0099FF"/>
<rect x="510" y="192" width="5" height="5" fill="#000"/><rect x="511" y="193" width="3" height="3" fill="#0099FF"/>
<rect x="511" y="192" width="5" height="5" fill="#000"/><rect x="512" y="193" width="3" height="3" fill="#0099FF"/>
<rect x="513" y="193" width="5" height="5" fill="#000"/><rect x="514" y="194" width="3" height="3" fill="#0099FF"/>
<rect x="515" y="194" width="5" height="5" fill="#000"/><rect x="516" y="195" width="3" height="3" fill="#0099FF"/>
<rect x="517" y="195" width="5" height="5" fill="#000"/><rect x="518" y="196" width="3" height="3" fill="#0099FF"/>
<rect x="518" y="195" width="5" height="5" fill="#000"/><rect x="519" y="196" width="3" height="3" fill="#0099FF"/>
<rect x="520" y="196" width="5" height="5" fill="#000"/><rect x="521" y="197" width="3" height="3" fill="#0099FF"/>
<rect x="30" y="31" width="1" height="271" fill="#000"/>
<rect x="30" y="301" width="500" height="1" fill="#000"/>
<rect x="30" y="31" width="6" height="1" fill="#000"/>
<rect x="30" y="40" width="4" height="1" fill="#000"/>
<rect x="30" y="49" width="4" height="1" fill="#000"/>
<rect x="30" y="58" width="4" height="1" fill="#000"/>
<rect x="30" y="67" width="4" height="1" fill="#000"/>
<rect x="30" y="76" width="6" height="1" fill="#000"/>
<rect x="30" y="85" width="4" height="1" fill="#000"/>
<rect x="30" y="94" width="4" height="1" fill="#000"/>
<rect x="30" y="103" width="4" height="1" fill="#000"/>
<rect x="30" y="112" width="4" height="1" fill="#000"/>
<rect x="30" y="121" width="6" height="1" fill="#000"/>
<rect x="30" y="130" width="4" height="1" fill="#000"/>
<rect x="30" y="139" width="4" height="1" fill="#000"/>
<rect x="30" y="148" width="4" height="1" fill="#000"/>
<rect x="30" y="157" width="4" height="1" fill="#000"/>
<rect x="30" y="166" width="6" height="1" fill="#000"/>
<rect x="30" y="175" width="4" height="1" fill="#000"/>
<rect x="30" y="184" width="4" height="1" fill="#000"/>
<rect x="30" y="193" width="4" height="1" fill="#000"/>
<rect x="30" y="202" width="4" height="1" fill="#000"/>
<rect x="30" y="211" width="6" height="1" fill="#000"/>
<rect x="30" y="220" width="4" height="1" fill="#000"/>
<rect x="30" y="229" width="4" height="1" fill="#000"/>
<rect x="30" y="238" width="4" height="1" fill="#000"/>
<rect x="30" y="247" width="4" height="1" fill="#000"/>
<rect x="30" y="256" width="6" height="1" fill="#000"/>
<rect x="30" y="265" width="4" height="1" fill="#000"/>
<rect x="30" y="274" width="4" height="1" fill="#000"/>
<rect x="30" y="283" width="4" height="1" fill="#000"/>
<rect x="30" y="292" width="4" height="1" fill="#000"/>
<rect x="30" y="301" width="6" height="1" fill="#000"/>
<rect x="30" y="296" width="1" height="6" fill="#000"/>
<rect x="37" y="298" width="1" height="4" fill="#000"/>
<rect x="44" y="298" width="1" height="4" fill="#000"/>
<rect x="51" y="298" width="1" height="4" fill="#000"/>
<rect x="57" y="298" width="1" height="4" fill="#000"/>
<rect x="64" y="298" width="1" height="4" fill="#000"/>
<rect x="71" y="296" width="1" height="6" fill="#000"/>
<rect x="78" y="298" width="1" height="4" fill="#000"/>
<rect x="85" y="298" width="1" height="4" fill="#000"/>
<rect x="92" y="298" width="1" height="4" fill="#000"/>
<rect x="98" y="298" width="1" height="4" fill="#000"/>
<rect x="105" y="298" width="1" height="4" fill="#000"/>
<rect x="112" y="296" width="1" height="6" fill="#000"/>
<rect x="119" y="298" width="1" height="4" fill="#000"/>
<rect x="126" y="298" width="1" height="4" fill="#000"/>
<rect x="133" y="298" width="1" height="4" fill="#000"/>
<rect x="139" y="298" width="1" height="4" fill="#000"/>
<rect x="146" y="298" width="1" height="4" fill="#000"/>
<rect x="153" y="296" width="1" height="6" fill="#000"/>
<rect x="160" y="298" width="1" height="4" fill="#000"/>
<rect x="167" y="298" width="1" height="4" fill="#000"/>
<rect x="174" y="298" width="1" height="4" fill="#000"/>
<rect x="180" y="298" width="1" height="4" fill="#000"/>
<rect x="187" y="298" width="1" height="4" fill="#000"/>
<rect x="194" y="296" width="1" height="6" fill="#000"/>
<rect x="201" y="298" width="1" height="4" fill="#000"/>
<rect x="208" y="298" width="1" height="4" fill="#000"/>
<rect x="215" y="298" width="1" height="4" fill="#000"/>
<rect x="221" y="298" width="1" height="4" fill="#000"/>
<rect x="228" y="298" width="1" height="4" fill="#000"/>
<rect x="235" y="296" width="1" height="6" fill="#000"/>
<rect x="242" y="298" width="1" height="4" fill="#000"/>
<rect x="249" y="298" width="1" height="4" fill="#000"/>
<rect x="256" y="298" width="1" height="4" fill="#000"/>
<rect x="262" y="298" width="1" height="4" fill="#000"/>
<rect x="269" y="298" width="1" height="4" fill="#000"/>
<rect x="276" y="296" width="1" height="6" fill="#000"/>
<rect x="283" y="298" width="1" height="4" fill="#000"/>
<rect x="290" y="298" width="1" height="4" fill="#000"/>
<rect x="297" y="298" width="1" height="4" fill="#000"/>
<rect x="303" y="298" width="1" height="4" fill="#000"/>
<rect x="310" y="298" width="1" height="4" fill="#000"/>
<rect x="317" y="296" width="1" height="6" fill="#000"/>
<rect x="324" y="298" width="1" height="4" fill="#000"/>
<rect x="331" y="298" width="1" height="4" fill="#000"/>
<rect x="338" y="298" width="1" height="4" fill="#000"/>
<rect x="344" y="298" width="1" height="4" fill="#000"/>
<rect x="351" y="298" width="1" height="4" fill="#000"/>
<rect x="358" y="296" width="1" height="6" fill="#000"/>
<rect x="365" y="298" width="1" height="4" fill="#000"/>
<rect x="372" y="298" width="1" height="4" fill="#000"/>
<rect x="379" y="298" width="1" height="4" fill="#000"/>
<rect x="385" y="298" width="1" height="4" fill="#000"/>
<rect x="392" y="298" width="1" height="4" fill="#000"/>
<rect x="399" y="296" width="1" height="6" fill="#000"/>
<rect x="406" y="298" width="1" height="4" fill="#000"/>
<rect x="413" y="298" width="1" height="4" fill="#000"/>
<rect x="420" y="298" width="1" height="4" fill="#000"/>
<rect x="426" y="298" width="1" height="4" fill="#000"/>
<rect x="433" y="298" width="1" height="4" fill="#000"/>
<rect x="440" y="296" width="1" height="6" fill="#000"/>
<rect x="447" y="298" width="1" height="4" fill="#000"/>
<rect x="454" y="298" width="1" height="4" fill="#000"/>
<rect x="461" y="298" width="1" height="4" fill="#000"/>
<rect x="467" y="298" width="1" height="4" fill="#000"/>
<rect x="474" y="298" width="1" height="4" fill="#000"/>
<rect x="481" y="296" width="1" height="6" fill="#000"/>
<rect x="488" y="298" width="1" height="4" fill="#000"/>
<rect x="495" y="298" width="1" height="4" fill="#000"/>
<rect x="502" y="298" width="1" height="4" fill="#000"/>
<rect x="508" y="298" width="1" height="4" fill="#000"/>
<rect x="515" y="298" width="1" height="4" fill="#000"/>
<rect x="522" y="296" width="1" height="6" fill="#000"/>
<rect x="529" y="298" width="1" height="4" fill="#000"/>
<text transform="translate(22.80,35.80) scale(1.080,1)" x="0" y="0" font-size="11.00" textLength="17.22" lengthAdjust="spacing" text-anchor="end">6.0</text>
<text transform="translate(22.80,80.80) scale(1.080,1)" x="0" y="0" font-size="11.00" textLength="17.22" lengthAdjust="spacing" text-anchor="end">5.5</text>
<text transform="translate(22.80,125.80) scale(1.080,1)" x="0" y="0" font-size="11.00" textLength="17.22" lengthAdjust="spacing" text-anchor="end">5.0</text>
<text transform="translate(22.80,170.80) scale(1.080,1)" x="0" y="0" font-size="11.00" textLength="17.22" lengthAdjust="spacing" text-anchor="end">4.5</text>
<text transform="translate(22.80,215.80) scale(1.080,1)" x="0" y="0" font-size="11.00" textLength="17.22" lengthAdjust="spacing" text-anchor="end">4.0</text>
<text transform="translate(22.80,260.80) scale(1.080,1)" x="0" y="0" font-size="11.00" textLength="17.22" lengthAdjust="spacing" text-anchor="end">3.5</text>
<text transform="translate(22.80,305.80) scale(1.080,1)" x="0" y="0" font-size="11.00" textLength="17.22" lengthAdjust="spacing" text-anchor="end">3.0</text>
<g transform="translate(34.0,0) rotate(-90)"><text transform="translate(-370.80,0.00) scale(1.080,1)" x="0" y="0" font-size="11.00" textLength="23.43" lengthAdjust="spacing">8/02</text><text transform="translate(-341.20,0.00) scale(1.080,1)" x="0" y="0" font-size="11.00" textLength="28.24" lengthAdjust="spacing">14:00</text></g>
<g transform="translate(75.0,0) rotate(-90)"><text transform="translate(-370.80,0.00) scale(1.080,1)" x="0" y="0" font-size="11.00" textLength="23.43" lengthAdjust="spacing">8/02</text><text transform="translate(-341.20,0.00) scale(1.080,1)" x="0" y="0" font-size="11.00" textLength="28.24" lengthAdjust="spacing">20:00</text></g>
<g transform="translate(116.0,0) rotate(-90)"><text transform="translate(-370.80,0.00) scale(1.080,1)" x="0" y="0" font-size="11.00" textLength="23.43" lengthAdjust="spacing">9/02</text><text transform="translate(-341.20,0.00) scale(1.080,1)" x="0" y="0" font-size="11.00" textLength="28.24" lengthAdjust="spacing">02:00</text></g>
<g transform="translate(157.0,0) rotate(-90)"><text transform="translate(-370.80,0.00) scale(1.080,1)" x="0" y="0" font-size="11.00" textLength="23.43" lengthAdjust="spacing">9/02</text><text transform="translate(-341.20,0.00) scale(1.080,1)" x="0" y="0" font-size="11.00" textLength="28.24" lengthAdjust="spacing">08:00</text></g>
<g transform="translate(198.0,0) rotate(-90)"><text transform="translate(-370.80,0.00) scale(1.080,1)" x="0" y="0" font-size="11.00" textLength="23.43" lengthAdjust="spacing">9/02</text><text transform="translate(-341.20,0.00) scale(1.080,1)" x="0" y="0" font-size="11.00" textLength="28.24" lengthAdjust="spacing">14:00</text></g>
<g transform="translate(239.0,0) rotate(-90)"><text transform="translate(-370.80,0.00) scale(1.080,1)" x="0" y="0" font-size="11.00" textLength="23.43" lengthAdjust="spacing">9/02</text><text transform="translate(-341.20,0.00) scale(1.080,1)" x="0" y="0" font-size="11.00" textLength="28.24" lengthAdjust="spacing">20:00</text></g>
<g transform="translate(280.0,0) rotate(-90)"><text transform="translate(-377.30,0.00) scale(1.080,1)" x="0" y="0" font-size="11.00" textLength="28.89" lengthAdjust="spacing">10/02</text><text transform="translate(-341.20,0.00) scale(1.080,1)" x="0" y="0" font-size="11.00" textLength="28.24" lengthAdjust="spacing">02:00</text></g>
<g transform="translate(321.0,0) rotate(-90)"><text transform="translate(-377.30,0.00) scale(1.080,1)" x="0" y="0" font-size="11.00" textLength="28.89" lengthAdjust="spacing">10/02</text><text transform="translate(-341.20,0.00) scale(1.080,1)" x="0" y="0" font-size="11.00" textLength="28.24" lengthAdjust="spacing">08:00</text></g>
<g transform="translate(362.0,0) rotate(-90)"><text transform="translate(-377.30,0.00) scale(1.080,1)" x="0" y="0" font-size="11.00" textLength="28.89" lengthAdjust="spacing">10/02</text><text transform="translate(-341.20,0.00) scale(1.080,1)" x="0" y="0" font-size="11.00" textLength="28.24" lengthAdjust="spacing">14:00</text></g>
<g transform="translate(403.0,0) rotate(-90)"><text transform="translate(-377.30,0.00) scale(1.080,1)" x="0" y="0" font-size="11.00" textLength="28.89" lengthAdjust="spacing">10/02</text><text transform="translate(-341.20,0.00) scale(1.080,1)" x="0" y="0" font-size="11.00" textLength="28.24" lengthAdjust="spacing">20:00</text></g>
<g transform="translate(444.0,0) rotate(-90)"><text transform="translate(-377.30,0.00) scale(1.080,1)" x="0" y="0" font-size="11.00" textLength="28.89" lengthAdjust="spacing">11/02</text><text transform="translate(-341.20,0.00) scale(1.080,1)" x="0" y="0" font-size="11.00" textLength="28.24" lengthAdjust="spacing">02:00</text></g>
<g transform="translate(485.0,0) rotate(-90)"><text transform="translate(-377.30,0.00) scale(1.080,1)" x="0" y="0" font-size="11.00" textLength="28.89" lengthAdjust="spacing">11/02</text><text transform="translate(-341.20,0.00) scale(1.080,1)" x="0" y="0" font-size="11.00" textLength="28.24" lengthAdjust="spacing">08:00</text></g>
<g transform="translate(526.0,0) rotate(-90)"><text transform="translate(-377.30,0.00) scale(1.080,1)" x="0" y="0" font-size="11.00" textLength="28.89" lengthAdjust="spacing">11/02</text><text transform="translate(-341.20,0.00) scale(1.080,1)" x="0" y="0" font-size="11.00" textLength="28.24" lengthAdjust="spacing">14:00</text></g>
<text transform="translate(456.50,385.50) scale(1.080,1)" x="0" y="0" font-size="11.00" textLength="21.68" lengthAdjust="spacing">date</text>
<text transform="translate(486.20,385.50) scale(1.600,1)" x="0" y="0" font-size="11.00" textLength="3.42" lengthAdjust="spacing">-</text>
<text transform="translate(498.00,385.50) scale(1.080,1)" x="0" y="0" font-size="11.00" textLength="27.57" lengthAdjust="spacing">heure</text>
<rect x="519.5" y="31.5" width="119" height="20" fill="rgba(240,244,255,0.5)" stroke="#000" stroke-width="1"/>
<rect x="521" y="38" width="9" height="2" fill="#0000FF"/>
<rect x="523" y="37" width="5" height="5" fill="#000"/><rect x="524" y="38" width="3" height="3" fill="#0099FF"/>
<text transform="translate(540.60,43.20) scale(1.000,1)" x="0" y="0" font-size="9.50" textLength="53.10" lengthAdjust="spacing" stroke="#000" stroke-width="0.35">Roquebrune</text>
<text transform="translate(595.30,43.20) scale(1.000,1)" x="0" y="0" font-size="9.50" textLength="32.60" lengthAdjust="spacing" stroke="#000" stroke-width="0.35">-sur-Ar</text>
<rect x="30.5" y="401.5" width="501" height="35" fill="#fff" stroke="#000" stroke-width="1"/>
<text transform="translate(36.50,417.80) scale(1.060,1)" x="0" y="0" font-size="10.00" textLength="95.58" lengthAdjust="spacing" stroke="#000" stroke-width="0.10">Crues marquantes</text>
<text transform="translate(144.50,417.80) scale(1.060,1)" x="0" y="0" font-size="10.00" textLength="2.34" lengthAdjust="spacing" stroke="#000" stroke-width="0.10">-</text>
<text transform="translate(152.90,417.80) scale(1.060,1)" x="0" y="0" font-size="10.00" textLength="34.79" lengthAdjust="spacing" stroke="#000" stroke-width="0.10">Station</text>
<text transform="translate(195.60,417.80) scale(1.060,1)" x="0" y="0" font-size="10.00" textLength="124.42" lengthAdjust="spacing" stroke="#000" stroke-width="0.10">Roquebrune-sur-Argens</text>
<text transform="translate(332.60,417.80) scale(1.060,1)" x="0" y="0" font-size="10.00" textLength="14.73" lengthAdjust="spacing" stroke="#000" stroke-width="0.10">[1]</text>
<rect x="36" y="425" width="2" height="1" fill="#0099FF"/>
<rect x="42" y="425" width="2" height="1" fill="#0099FF"/>
<rect x="48" y="425" width="2" height="1" fill="#0099FF"/>
<rect x="54" y="425" width="2" height="1" fill="#0099FF"/>
<text transform="translate(63.80,429.80) scale(1.060,1)" x="0" y="0" font-size="10.00" textLength="41.58" lengthAdjust="spacing" stroke="#000" stroke-width="0.10">Crue du</text>
<text transform="translate(111.60,429.80) scale(1.060,1)" x="0" y="0" font-size="10.00" textLength="59.43" lengthAdjust="spacing" stroke="#000" stroke-width="0.10">16/12/2008</text>
<text transform="translate(180.90,429.80) scale(1.060,1)" x="0" y="0" font-size="10.00" textLength="3.57" lengthAdjust="spacing" stroke="#000" stroke-width="0.10">-</text>
<text transform="translate(189.70,429.80) scale(1.060,1)" x="0" y="0" font-size="10.00" textLength="36.91" lengthAdjust="spacing" stroke="#000" stroke-width="0.10">5.62 m</text>
</svg></body></html>
